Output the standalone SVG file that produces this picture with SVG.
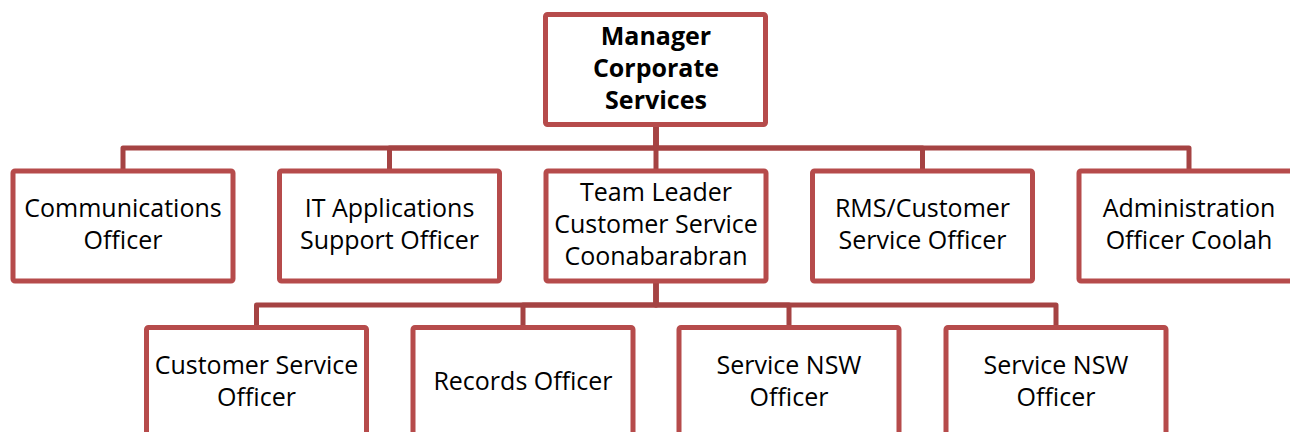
<svg xmlns="http://www.w3.org/2000/svg" width="1290" height="432" viewBox="0 0 1290 432">
  <style>
    .box { fill: #ffffff; stroke: #b64b4b; stroke-width: 5; }
    .link { fill: none; stroke: #a54343; stroke-width: 5; stroke-linejoin: round; }
    .lbl { font-family: "Open Sans", "Noto Sans", "Liberation Sans", sans-serif; font-size: 25px; fill: #000; text-anchor: middle; }
    .bold { font-weight: bold; }
  </style>
  <rect width="1290" height="432" fill="#ffffff"/>

  <!-- connectors -->
  <g id="connectors">
    <path class="link" d="M656 127 V148 H123 V171"/>
    <path class="link" d="M656 127 V148 H389.5 V171"/>
    <path class="link" d="M656 127 V171"/>
    <path class="link" d="M656 127 V148 H922.5 V171"/>
    <path class="link" d="M656 127 V148 H1189 V171"/>
    <path class="link" d="M656 283 V305 H256.5 V327.5"/>
    <path class="link" d="M656 283 V305 H523 V327.5"/>
    <path class="link" d="M656 283 V305 H789 V327.5"/>
    <path class="link" d="M656 283 V305 H1056 V327.5"/>
  </g>

  <!-- level 0 -->
  <g id="manager">
    <rect class="box" x="545.5" y="14.5" width="220" height="110" rx="2"/>
    <text class="lbl bold" x="656" y="45">Manager</text>
    <text class="lbl bold" x="656" y="77">Corporate</text>
    <text class="lbl bold" x="656" y="109">Services</text>
  </g>

  <!-- level 1 -->
  <g id="communications">
    <rect class="box" x="13" y="171" width="220" height="110" rx="2"/>
    <text class="lbl" x="123" y="217">Communications</text>
    <text class="lbl" x="123" y="249">Officer</text>
  </g>
  <g id="it-applications">
    <rect class="box" x="279.5" y="171" width="220" height="110" rx="2"/>
    <text class="lbl" x="389.5" y="217">IT Applications</text>
    <text class="lbl" x="389.5" y="249">Support Officer</text>
  </g>
  <g id="team-leader">
    <rect class="box" x="546" y="171" width="220" height="110" rx="2"/>
    <text class="lbl" x="656" y="201">Team Leader</text>
    <text class="lbl" x="656" y="233">Customer Service</text>
    <text class="lbl" x="656" y="265">Coonabarabran</text>
  </g>
  <g id="rms-customer">
    <rect class="box" x="812.5" y="171" width="220" height="110" rx="2"/>
    <text class="lbl" x="922.5" y="217">RMS/Customer</text>
    <text class="lbl" x="922.5" y="249">Service Officer</text>
  </g>
  <g id="administration">
    <rect class="box" x="1079" y="171" width="220" height="110" rx="2"/>
    <text class="lbl" x="1189" y="217">Administration</text>
    <text class="lbl" x="1189" y="249">Officer Coolah</text>
  </g>

  <!-- level 2 -->
  <g id="customer-service-officer">
    <rect class="box" x="146.5" y="327.5" width="220" height="110" rx="2"/>
    <text class="lbl" x="256.5" y="374">Customer Service</text>
    <text class="lbl" x="256.5" y="406">Officer</text>
  </g>
  <g id="records-officer">
    <rect class="box" x="413" y="327.5" width="220" height="110" rx="2"/>
    <text class="lbl" x="523" y="390">Records Officer</text>
  </g>
  <g id="service-nsw-1">
    <rect class="box" x="679" y="327.5" width="220" height="110" rx="2"/>
    <text class="lbl" x="789" y="374">Service NSW</text>
    <text class="lbl" x="789" y="406">Officer</text>
  </g>
  <g id="service-nsw-2">
    <rect class="box" x="946" y="327.5" width="220" height="110" rx="2"/>
    <text class="lbl" x="1056" y="374">Service NSW</text>
    <text class="lbl" x="1056" y="406">Officer</text>
  </g>
</svg>
